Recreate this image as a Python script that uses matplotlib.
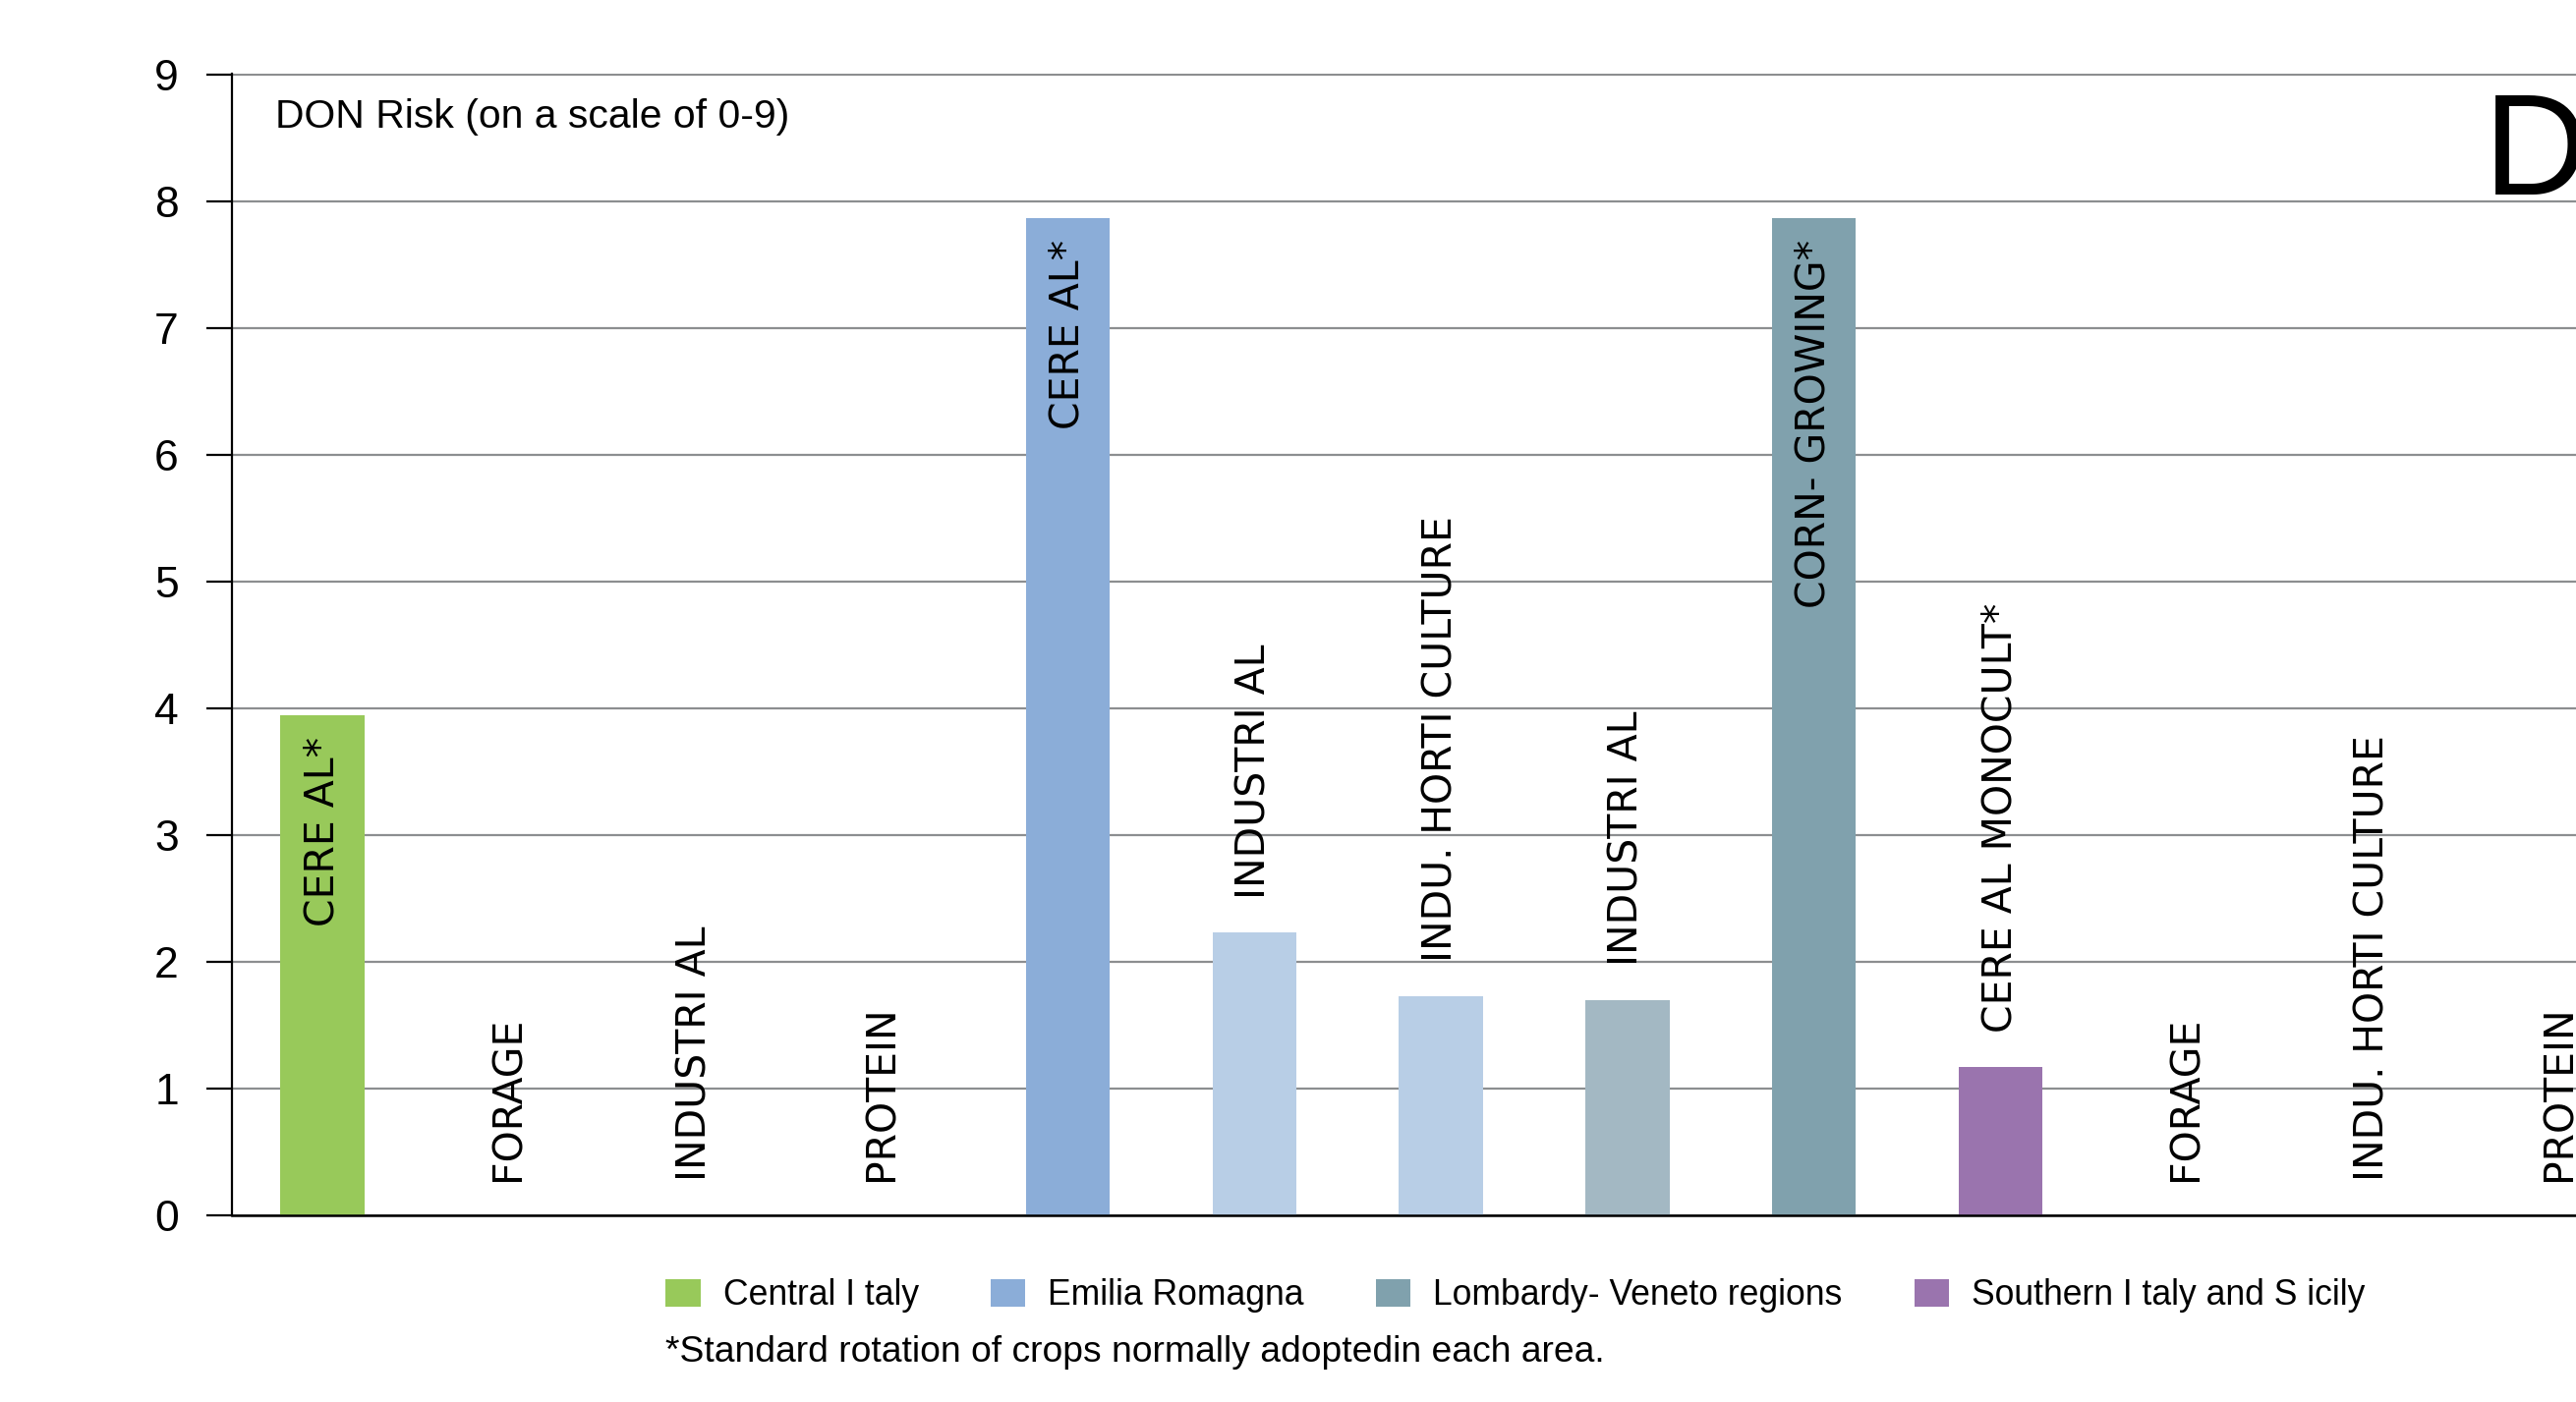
# DON risk chart (panel D) - crops by region
import matplotlib.pyplot as plt
import numpy as np
from matplotlib.patches import Patch

# one entry per crop slot, left to right
labels = ["CERE AL*", "FORAGE", "INDUSTRI AL", "PROTEIN",
          "CERE AL*", "INDUSTRI AL", "INDU. HORTI CULTURE",
          "INDUSTRI AL", "CORN- GROWING*",
          "CERE AL MONOCULT*", "FORAGE", "INDU. HORTI CULTURE", "PROTEIN"]
values = [3.95, 0, 0, 0, 7.87, 2.23, 1.73, 1.70, 7.87, 1.17, 0, 0, 0]
bar_colors = ["#98C95A", "#98C95A", "#98C95A", "#98C95A",
              "#8BADD8", "#B8CEE6", "#B8CEE6",
              "#A3B8C3", "#80A1AD",
              "#9A74AE", "#9A74AE", "#9A74AE", "#9A74AE"]

regions = ["Central I taly", "Emilia Romagna",
           "Lombardy- Veneto regions", "Southern I taly and S icily"]
region_colors = ["#98C95A", "#8BADD8", "#80A1AD", "#9A74AE"]

note = "*Standard rotation of crops normally adoptedin each area."
title = "DON Risk (on a scale of 0-9)"

W, H = 2621, 1427
fig = plt.figure(figsize=(W / 100, H / 100), dpi=100)
ax = fig.add_axes([236 / W, 1 - 1237 / H, 1 - 236 / W, (1237 - 75) / H])

x = np.arange(len(labels))
ax.bar(x, values, width=0.45, color=bar_colors, zorder=2)
ax.set_xlim(-0.485, 12.088)
ax.set_ylim(0, 9.01)
ax.set_yticks(range(10))
ax.set_xticks([])
ax.yaxis.grid(True, color="#8c8e90", linewidth=1.6, zorder=0)
ax.set_axisbelow(True)
for s in ["top", "right"]:
    ax.spines[s].set_visible(False)
ax.spines["left"].set_linewidth(1.6)
ax.spines["bottom"].set_linewidth(1.8)
ax.tick_params(axis="y", length=19, width=1.6, pad=20, labelsize=32)
for t in ax.get_yticklabels():
    t.set_family("Liberation Sans")

for xi, v, lab in zip(x, values, labels):
    if v > 3:
        ax.annotate(lab, (xi, v), xytext=(0, -16), textcoords="offset points",
                    rotation=90, ha="center", va="top", fontsize=29.5,
                    family="DejaVu Sans", zorder=3)
    else:
        ax.annotate(lab, (xi, v), xytext=(0, 25), textcoords="offset points",
                    rotation=90, ha="center", va="bottom", fontsize=29.5,
                    family="DejaVu Sans", zorder=3)

ax.text(-0.255, 8.58, title, fontsize=29.4, family="Liberation Sans", va="baseline")

fig.text(2527 / W, 1 - 198 / H, "D", fontsize=106, family="Liberation Sans",
         va="baseline", ha="left")

handles = [Patch(facecolor=c) for c in region_colors]
fig.legend(handles, regions, loc="center left",
           bbox_to_anchor=(677 / W, 1 - 1319 / H), ncol=4, frameon=False,
           prop={"family": "Liberation Sans", "size": 25.6},
           handlelength=1.0, handleheight=0.85, handletextpad=0.65,
           columnspacing=2.05, borderpad=0, borderaxespad=0)
fig.text(677 / W, 1 - 1376 / H, note, va="center", fontsize=26.8,
         family="Liberation Sans")

fig.savefig("out.png", dpi=100)
